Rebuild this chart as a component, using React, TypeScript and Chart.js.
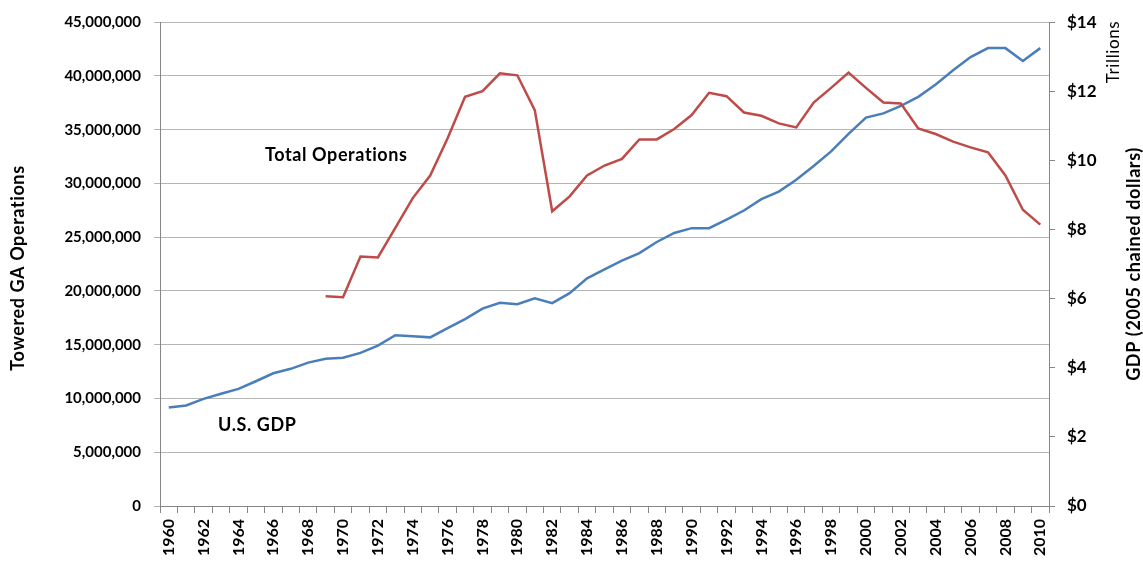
import React, { useEffect, useRef } from "react";
import { Chart, registerables } from "chart.js";

Chart.register(...registerables);

const years: string[] = [];
for (let y = 1960; y <= 2010; y++) years.push(String(y));

// U.S. GDP, trillions (2005 chained dollars), 1960-2010
const gdpTrillions = [
  2.85, 2.91, 3.10, 3.25, 3.39, 3.61, 3.84, 3.97, 4.15, 4.26,
  4.29, 4.43, 4.64, 4.94, 4.91, 4.88, 5.15, 5.41, 5.71, 5.88,
  5.84, 6.01, 5.87, 6.16, 6.59, 6.85, 7.10, 7.32, 7.64, 7.90,
  8.04, 8.04, 8.29, 8.55, 8.88, 9.10, 9.44, 9.84, 10.26, 10.77,
  11.24, 11.36, 11.58, 11.84, 12.20, 12.61, 12.99, 13.25, 13.25, 12.88,
  13.25,
];

// Towered GA operations, 1960-2010 (no data before 1969)
const totalOperations: (number | null)[] = [
  null, null, null, null, null, null, null, null, null,
  19510000, 19420000, 23210000, 23120000, 25860000, 28640000, 30740000, 34200000,
  38060000, 38580000, 40250000, 40060000, 36820000, 27410000, 28800000, 30740000,
  31670000, 32280000, 34100000, 34100000, 35060000, 36360000, 38430000, 38120000,
  36600000, 36300000, 35590000, 35220000, 37530000, 38890000, 40310000, 38890000,
  37530000, 37440000, 35120000, 34600000, 33890000, 33360000, 32900000, 30740000,
  27560000, 26170000,
];

const leftTicks = [0, 5000000, 10000000, 15000000, 20000000, 25000000, 30000000, 35000000, 40000000, 45000000];
const rightTicks = [0, 2, 4, 6, 8, 10, 12, 14];

const FONT = "Lato, 'Open Sans', sans-serif";

const textPlugin = {
  id: "customText",
  afterDraw(chart: any) {
    const ctx = chart.ctx;
    ctx.save();
    ctx.fillStyle = "#000";
    ctx.textAlign = "center";
    ctx.textBaseline = "middle";
    try { ctx.letterSpacing = "0.6px"; } catch (e) {}
    // Left title
    ctx.save();
    ctx.translate(18, 268);
    ctx.rotate(-Math.PI / 2);
    ctx.font = `bold 18px ${FONT}`;
    ctx.fillText("Towered GA Operations", 0, 0);
    ctx.restore();
    // Right title
    ctx.save();
    ctx.translate(1134, 264);
    ctx.rotate(-Math.PI / 2);
    ctx.font = `bold 18px ${FONT}`;
    ctx.fillText("GDP (2005 chained dollars)", 0, 0);
    ctx.restore();
    // Trillions
    ctx.save();
    ctx.translate(1114, 52);
    ctx.rotate(-Math.PI / 2);
    ctx.font = `17px ${FONT}`;
    ctx.fillText("Trillions", 0, 0);
    ctx.restore();
    // Annotations
    ctx.font = `bold 18px ${FONT}`;
    ctx.textAlign = "left";
    ctx.fillText("Total Operations", 265, 155);
    ctx.fillText("U.S. GDP", 218, 425);
    ctx.restore();
  },
};

export default function App() {
  const ref = useRef<HTMLCanvasElement | null>(null);

  useEffect(() => {
    if (!ref.current) return;
    const chart = new Chart(ref.current, {
      type: "line",
      data: {
        labels: years,
        datasets: [
          {
            label: "Total Operations",
            data: totalOperations,
            yAxisID: "y",
            borderColor: "#be4b48",
            borderWidth: 2.5,
            pointRadius: 0,
            tension: 0,
            spanGaps: false,
          },
          {
            label: "U.S. GDP",
            data: gdpTrillions,
            yAxisID: "y1",
            borderColor: "#4a7ebb",
            borderWidth: 2.5,
            pointRadius: 0,
            tension: 0,
          },
        ],
      },
      options: {
        responsive: false,
        animation: false,
        layout: { padding: { top: 20, left: 0, right: 0, bottom: 0 } },
        plugins: {
          legend: { display: false },
          tooltip: { enabled: false },
        },
        scales: {
          x: {
            type: "category",
            offset: true,
            grid: {
              offset: true,
              drawOnChartArea: false,
              drawTicks: true,
              tickLength: 7,
              color: "#868686",
            },
            border: { color: "#868686", width: 1 },
            ticks: {
              autoSkip: false,
              maxRotation: 90,
              minRotation: 90,
              padding: 6,
              color: "#000",
              font: { family: FONT, size: 16, weight: "bold" },
              callback: (_v: any, i: number) => (i % 2 === 0 ? years[i] : ""),
            },
            afterFit: (s: any) => {
              s.height = 57;
            },
          },
          y: {
            position: "left",
            min: 0,
            max: 45000000,
            afterBuildTicks: (s: any) => {
              s.ticks = leftTicks.map((v) => ({ value: v }));
            },
            grid: {
              color: "#b5b5b5",
              tickLength: 6,
            },
            border: { color: "#868686" },
            ticks: {
              padding: 13,
              color: "#000",
              font: { family: FONT, size: 15, weight: "bold" },
              callback: (v: any) => Number(v).toLocaleString("en-US"),
            },
            afterFit: (s: any) => {
              s.width = 160;
            },
          },
          y1: {
            position: "right",
            min: 0,
            max: 14,
            afterBuildTicks: (s: any) => {
              s.ticks = rightTicks.map((v) => ({ value: v }));
            },
            grid: {
              drawOnChartArea: false,
              color: "#868686",
              tickLength: 6,
            },
            border: { color: "#868686" },
            ticks: {
              padding: 12,
              color: "#000",
              font: { family: FONT, size: 17, weight: "bold" },
              callback: (v: any) => "$" + v,
            },
            afterFit: (s: any) => {
              s.width = 94;
            },
          },
        },
      } as any,
      plugins: [textPlugin],
    });
    return () => chart.destroy();
  }, []);

  return (
    <div style={{ position: "absolute", left: 0, top: 0, width: 1143, height: 563, background: "#fff" }}>
      <canvas ref={ref} width={1143} height={563} style={{ display: "block" }} />
    </div>
  );
}
